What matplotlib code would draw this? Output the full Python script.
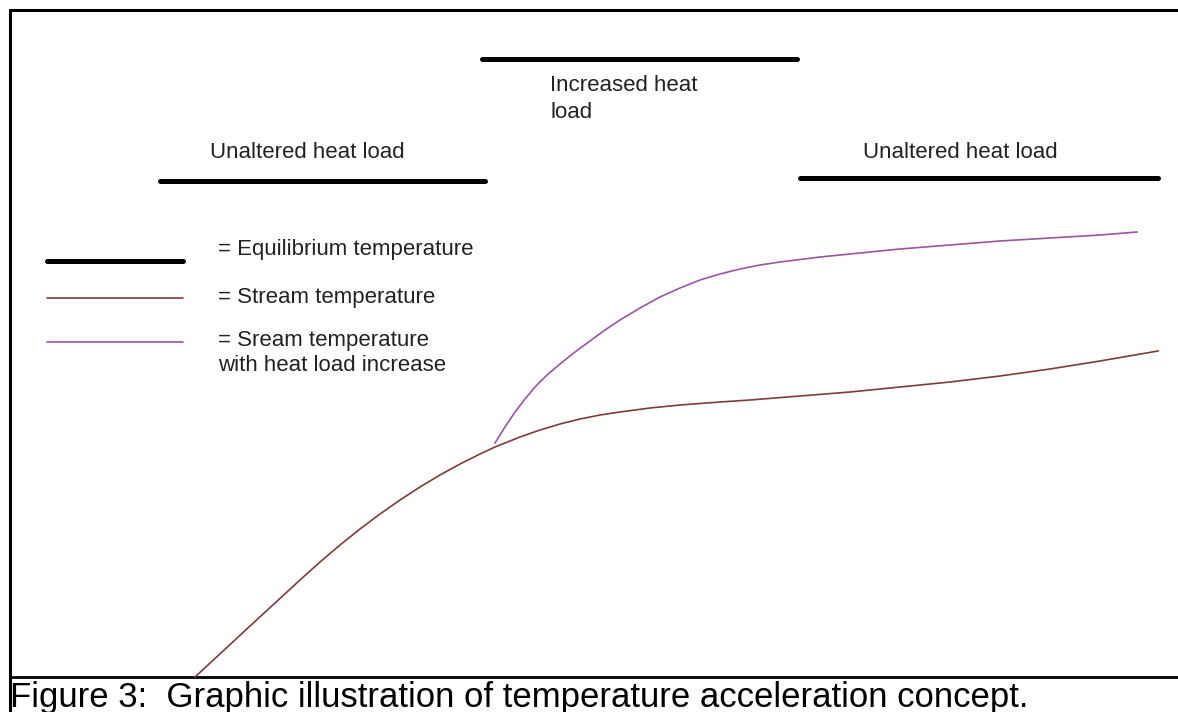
import matplotlib.pyplot as plt

# Canvas units follow the picture (x to the right, y downwards)
W, H = 1178, 712

# Equilibrium temperature segments (x start, x end, level)
eq_x0 = [160, 482, 800]
eq_x1 = [485, 797, 1158]
eq_y = [181, 59, 178]
eq_labels = ['Unaltered heat load', 'Increased heat\nload', 'Unaltered heat load']
eq_label_x = [210, 550, 863]
eq_label_y = [153, 99, 152]

# Stream temperature curve
stream_x = [195, 222, 250, 275, 300, 320, 340, 360, 380, 400, 420, 440, 460, 480,
            495, 520, 540, 560, 580, 600, 620, 650, 680, 720, 750, 800, 850, 900,
            950, 1000, 1050, 1100, 1158]
stream_y = [677, 652, 626, 603, 580, 562, 545, 529, 514, 500, 487, 475, 464, 454,
            447, 437, 430, 424, 419, 415, 412, 408, 405, 402, 400, 396, 392, 387,
            382, 376, 369, 361, 351]

# Stream temperature with heat load increase
heat_x = [495, 505, 515, 525, 535, 547, 560, 575, 590, 605, 620, 640, 660, 680,
          700, 720, 740, 760, 780, 820, 850, 900, 950, 1000, 1050, 1100, 1137]
heat_y = [443, 427, 412, 399, 387, 375, 364, 352, 341, 330, 320, 308, 297, 288,
          280, 274, 269, 265, 262, 257, 254, 249, 245, 241, 238, 235, 232]

legend_labels = ['= Equilibrium temperature', '= Stream temperature',
                 '= Sream temperature\nwith heat load increase']
legend_y = [261, 298, 342]

caption = 'Figure 3:  Graphic illustration of temperature acceleration concept.'

stream_color = '#7d3c3c'
heat_color = '#9a55a2'

plt.rcParams['font.family'] = ['Liberation Sans', 'DejaVu Sans']

fig = plt.figure(figsize=(W / 100, H / 100), dpi=100)
ax = fig.add_axes([0, 0, 1, 1])
ax.set_xlim(0, W)
ax.set_ylim(H, 0)
ax.axis('off')

# frame around the drawing and caption separator
ax.plot([10, 10], [9, H], color='black', lw=2.2, solid_capstyle='butt')
ax.plot([9, W], [9.5, 9.5], color='black', lw=2.2, solid_capstyle='butt')
ax.plot([9, W], [677, 677], color='black', lw=2.0, solid_capstyle='butt')

# equilibrium temperature bars
for x0, x1, y in zip(eq_x0, eq_x1, eq_y):
    ax.plot([x0, x1], [y, y], color='black', lw=3.6, solid_capstyle='round')
for lbl, x, y in zip(eq_labels, eq_label_x, eq_label_y):
    ax.text(x, y, lbl, fontsize=16, color='#222222', ha='left', va='center',
            linespacing=1.4)

# curves
ax.plot(stream_x, stream_y, color=stream_color, lw=1.2)
ax.plot(heat_x, heat_y, color=heat_color, lw=1.2)

# legend drawn by hand
legend_styles = [('black', 3.6), (stream_color, 1.2), (heat_color, 1.2)]
for (c, lw), y in zip(legend_styles, legend_y):
    ax.plot([47, 183], [y, y], color=c, lw=lw, solid_capstyle='round')
ax.text(218, 250, legend_labels[0], fontsize=16, color='#222222', va='center')
ax.text(218, 298, legend_labels[1], fontsize=16, color='#222222', va='center')
ax.text(218, 353, legend_labels[2], fontsize=16, color='#222222', va='center',
        linespacing=1.3)

ax.text(10, 707, caption, fontsize=25, color='black', ha='left',
        va='baseline')

fig.savefig('out.png', dpi=100)
